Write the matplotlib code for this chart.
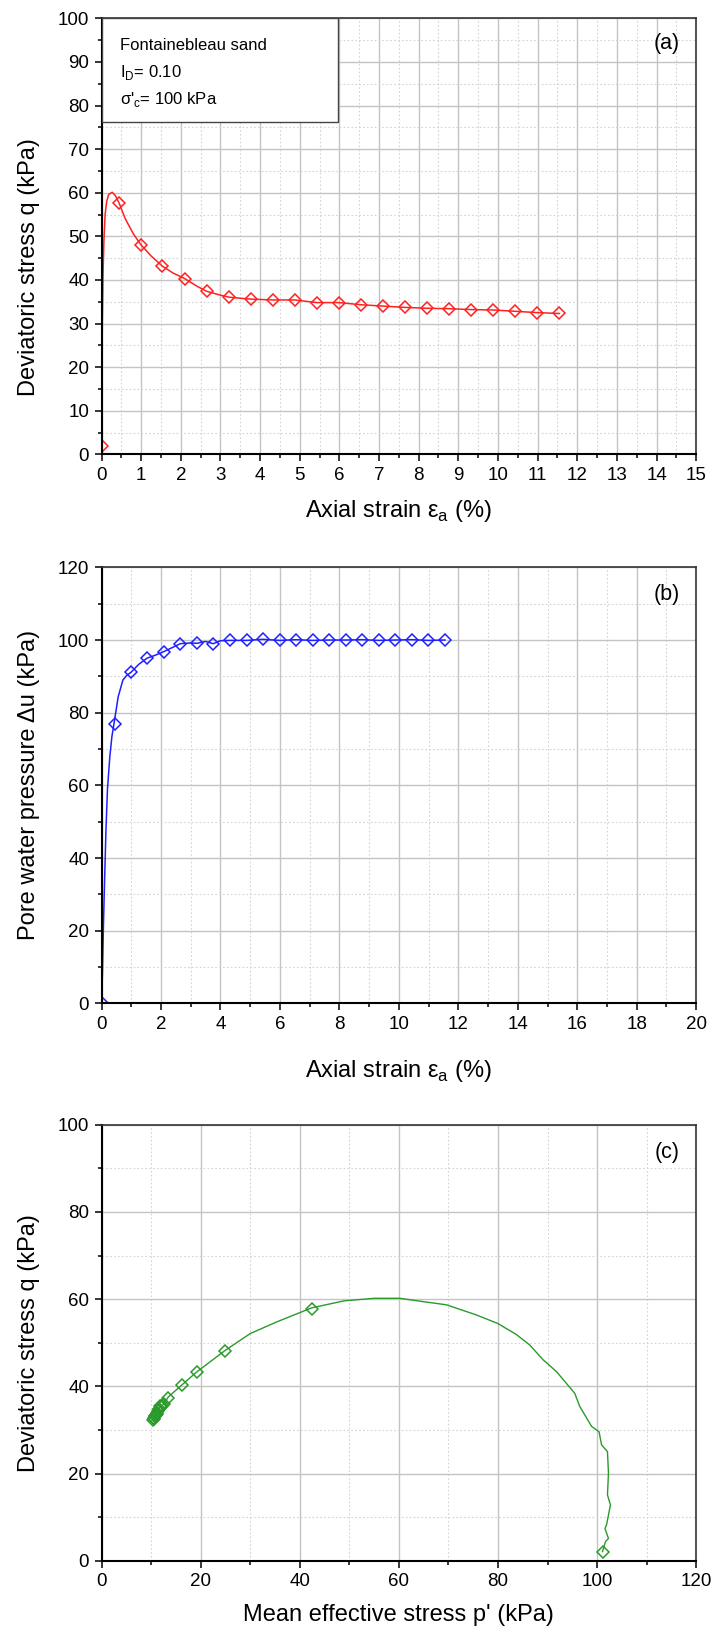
import numpy as np
import matplotlib
matplotlib.use("Agg")
import matplotlib.pyplot as plt
from matplotlib.ticker import MultipleLocator
from matplotlib.patches import Rectangle

plt.rcParams['font.family'] = ['Liberation Sans', 'DejaVu Sans']
plt.rcParams['mathtext.fontset'] = 'custom'
plt.rcParams['mathtext.rm'] = 'Liberation Sans'

# ---- marker points (same strain steps for all three panels)
strain_mk = [0, 0.44, 0.99, 1.53, 2.10, 2.65, 3.21, 3.76, 4.32, 4.88, 5.43, 5.99,
             6.55, 7.10, 7.65, 8.21, 8.77, 9.32, 9.88, 10.44, 10.99, 11.55]
q_mk = [2.0, 57.7, 48.1, 43.2, 40.3, 37.4, 36.05, 35.6, 35.4, 35.4, 34.8, 34.8,
        34.3, 34.0, 33.7, 33.5, 33.4, 33.2, 33.1, 32.8, 32.5, 32.3]
u_mk = [0.0, 77.0, 91.1, 95.0, 96.8, 99.0, 99.1, 99.0, 99.9, 99.9, 100.2, 99.9,
        100.1, 99.9, 100.0, 100.0, 100.1, 99.9, 100.0, 100.1, 99.9, 100.0]
p_mk = [101.1, 42.4, 24.9, 19.2, 16.3, 13.5, 12.6, 12.3, 12.0, 11.8, 11.6, 11.5,
        11.3, 11.2, 11.1, 11.0, 10.9, 10.8, 10.7, 10.6, 10.5, 10.4]

# ---- continuous curves
strain_q = [0, 0.005, 0.01, 0.02, 0.04, 0.06, 0.09, 0.13, 0.18, 0.27, 0.35, 0.44,
            0.6, 0.8, 0.99, 1.25, 1.53, 1.8, 2.10, 2.4, 2.65, 3.0, 3.21, 3.5, 3.76,
            4.32, 4.88, 5.43, 5.99, 6.55, 7.10, 7.65, 8.21, 8.77, 9.32, 9.88, 10.44,
            10.99, 11.55]
q_line = [2, 8, 18, 30, 42, 49, 55, 58, 59.6, 60.1, 59.3, 57.7,
          54.0, 50.6, 48.1, 45.5, 43.2, 41.6, 40.3, 38.6, 37.4, 36.5, 36.05, 35.8, 35.6,
          35.4, 35.4, 34.8, 34.8, 34.3, 34.0, 33.7, 33.5, 33.4, 33.2, 33.1, 32.8,
          32.5, 32.3]

strain_u = [0, 0.03, 0.06, 0.1, 0.15, 0.2, 0.28, 0.35, 0.42, 0.56, 0.72, 0.85, 0.99,
            1.25, 1.53, 1.8, 2.09, 2.4, 2.65, 3.0, 3.21, 3.5, 3.76, 4.0, 4.32, 4.88,
            5.43, 5.99, 6.55, 7.10, 7.65, 8.21, 8.77, 9.32, 9.88, 10.44, 10.99, 11.55]
u_line = [0, 8, 20, 33, 48, 59, 68, 73.5, 77.0, 84.4, 89.0, 90.3, 91.1,
          93.3, 95.0, 95.8, 96.8, 98.0, 99.0, 99.2, 99.1, 99.6, 99.0, 99.8, 99.9, 99.9,
          100.2, 99.9, 100.1, 99.9, 100.0, 100.0, 100.1, 99.9, 100.0, 100.1, 99.9, 100.0]

p_line = [101.1, 101.7, 102.3, 101.6, 101.9, 102.7, 102.1, 102.3, 102.1, 100.9, 100.4,
          98.9, 96.5, 95.5, 91.8, 89.1, 86.4, 83.7, 80.0, 75.6, 69.6, 65.1, 60.2, 55.0,
          48.9, 42.4, 35.4, 30.0, 24.9, 19.2, 16.3, 13.5, 12.6, 12.3, 12.0, 11.8, 11.6,
          11.5, 11.3, 11.2, 11.1, 11.0, 10.9, 10.8, 10.7, 10.6, 10.5, 10.4]
qp_line = [2.1, 4.4, 5.1, 7.4, 8.2, 12.8, 15.1, 20.1, 25.0, 26.6, 29.6,
           30.8, 35.4, 38.4, 43.4, 46.1, 49.5, 51.9, 54.4, 56.4, 58.7, 59.4, 60.2, 60.2,
           59.6, 58.0, 54.8, 52.1, 48.2, 43.3, 40.4, 37.6, 36.05, 35.6, 35.4, 35.4, 34.8,
           34.8, 34.3, 34.0, 33.7, 33.5, 33.4, 33.2, 33.1, 32.8, 32.5, 32.3]

RED = "#ff2020"
BLUE = "#1f1fff"
GREEN = "#2a9a2a"
TICK_FS, LABEL_FS, PANEL_FS = 13.5, 17, 15.5


def style(ax, xlim, xmaj, xmin, ylim, ymaj, ymin):
    ax.set_xlim(*xlim); ax.set_ylim(*ylim)
    ax.xaxis.set_major_locator(MultipleLocator(xmaj))
    ax.xaxis.set_minor_locator(MultipleLocator(xmin))
    ax.yaxis.set_major_locator(MultipleLocator(ymaj))
    ax.yaxis.set_minor_locator(MultipleLocator(ymin))
    ax.set_axisbelow(True)
    ax.grid(which="major", color="#c4c4c4", lw=1.0, ls="-")
    ax.grid(which="minor", color="#d4d4d4", lw=0.8, ls=(0, (1.5, 2)))
    ax.tick_params(which="major", direction="out", length=5, width=1.1,
                   labelsize=TICK_FS, pad=4, top=False, right=False)
    ax.tick_params(which="minor", direction="out", length=3.2, width=1.1,
                   top=False, right=False)
    for s in ("left", "bottom"):
        ax.spines[s].set_linewidth(1.5); ax.spines[s].set_color("black")
    for s in ("top", "right"):
        ax.spines[s].set_linewidth(1.2); ax.spines[s].set_color("#333333")


fig = plt.figure(figsize=(7.13, 16.36), dpi=100)
L, W, H = 0.1424, 0.834, 0.2665

# (a)
ax = fig.add_axes([L, 0.7223, W, H])
style(ax, (0, 15), 1, 0.5, (0, 100), 10, 5)
ax.plot(strain_q, q_line, "-", color=RED, lw=1.1)
ax.plot(strain_mk, q_mk, "D", ms=6.3, mfc="none", mec=RED, mew=1.1)
ax.set_xlabel("Axial strain ε$_\\mathregular{a}$ (%)", fontsize=LABEL_FS, labelpad=10)
ax.set_ylabel("Deviatoric stress q (kPa)", fontsize=LABEL_FS, labelpad=13)
ax.yaxis.label.set_y(0.43)
ax.add_patch(Rectangle((0, 0.762), 0.397, 0.238, transform=ax.transAxes,
                       fc="white", ec="#444444", lw=1.0, zorder=4))
ax.text(0.031, 0.938, "Fontainebleau sand", transform=ax.transAxes, fontsize=12,
        va="center", zorder=5)
ax.text(0.031, 0.876, "I$_\\mathregular{D}$= 0.10", transform=ax.transAxes, fontsize=12,
        va="center", zorder=5)
ax.text(0.031, 0.814, "σ'$_\\mathregular{c}$= 100 kPa", transform=ax.transAxes,
        fontsize=12, va="center", zorder=5)
ax.text(0.951, 0.943, "(a)", transform=ax.transAxes, fontsize=PANEL_FS, ha="center", va="center")

# (b)
ax = fig.add_axes([L, 0.3867, W, H])
style(ax, (0, 20), 2, 1, (0, 120), 20, 10)
ax.plot(strain_u, u_line, "-", color=BLUE, lw=1.1)
ax.plot(strain_mk, u_mk, "D", ms=6.3, mfc="none", mec=BLUE, mew=1.1)
ax.set_xlabel("Axial strain ε$_\\mathregular{a}$ (%)", fontsize=LABEL_FS, labelpad=18)
ax.set_ylabel("Pore water pressure Δu (kPa)", fontsize=LABEL_FS, labelpad=13)
ax.text(0.951, 0.937, "(b)", transform=ax.transAxes, fontsize=PANEL_FS, ha="center", va="center")

# (c)
ax = fig.add_axes([L, 0.0460, W, H])
style(ax, (0, 120), 20, 10, (0, 100), 20, 10)
ax.plot(p_line, qp_line, "-", color=GREEN, lw=1.0)
ax.plot(p_mk, q_mk, "D", ms=6.3, mfc="none", mec=GREEN, mew=1.1)
ax.set_xlabel("Mean effective stress p' (kPa)", fontsize=LABEL_FS, labelpad=10)
ax.set_ylabel("Deviatoric stress q (kPa)", fontsize=LABEL_FS, labelpad=13)
ax.text(0.951, 0.937, "(c)", transform=ax.transAxes, fontsize=PANEL_FS, ha="center", va="center")

fig.savefig("out.png", dpi=100)
